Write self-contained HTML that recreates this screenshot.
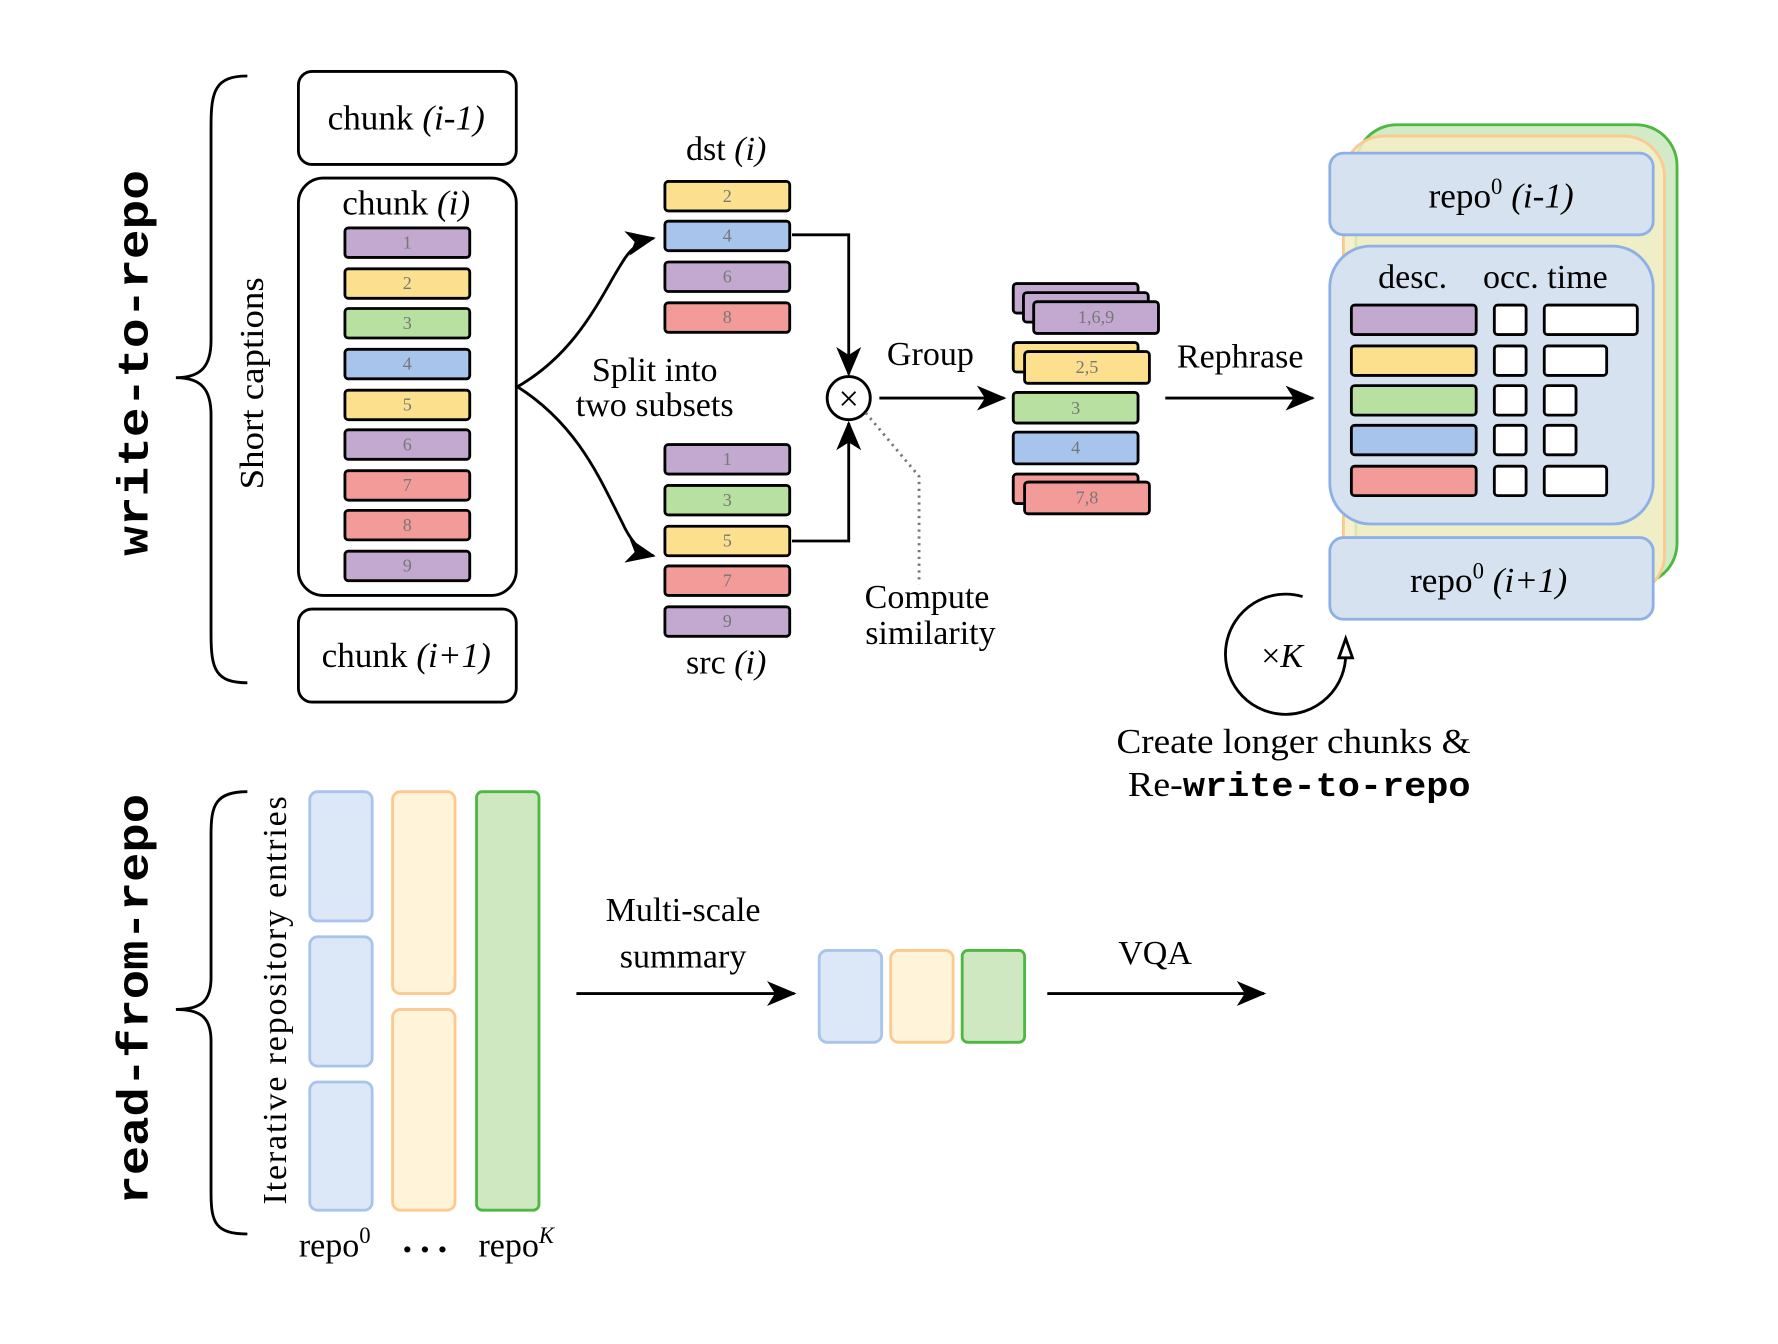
<!DOCTYPE html>
<html><head><meta charset="utf-8"><style>html,body{margin:0;padding:0;background:#fff}svg{display:block}</style></head>
<body>
<svg width="1778" height="1344" viewBox="0 0 1567 1185" xmlns="http://www.w3.org/2000/svg" preserveAspectRatio="none">
<defs>
<marker id="ahb" markerWidth="26" markerHeight="22" refX="24" refY="11" orient="auto" markerUnits="userSpaceOnUse" viewBox="0 0 26 22"><path d="M0,0 L26,11 L0,22 L7,11 Z" fill="#000"/></marker>
</defs>
<g font-family="Liberation Serif, serif" fill="#000">
<text transform="translate(130,320) rotate(-90)" text-anchor="middle" font-family="Liberation Mono, monospace" font-weight="bold" font-size="38" textLength="340" lengthAdjust="spacingAndGlyphs">write-to-repo</text>
<text transform="translate(130,881) rotate(-90)" text-anchor="middle" font-family="Liberation Mono, monospace" font-weight="bold" font-size="38" textLength="362" lengthAdjust="spacingAndGlyphs">read-from-repo</text>
<path d="M218,67 C190,67 186,80 186,110 L186,300 C186,322 178,333 155,333 C178,333 186,344 186,366 L186,560 C186,590 190,602 218,602" fill="none" stroke="#000" stroke-width="2.5"/>
<path d="M218,698 C190,698 186,710 186,735 L186,862 C186,882 178,890 155,890 C178,890 186,898 186,918 L186,1052 C186,1078 190,1088 218,1088" fill="none" stroke="#000" stroke-width="2.5"/>
<text transform="translate(232,338) rotate(-90)" text-anchor="middle" font-size="30" textLength="187" lengthAdjust="spacingAndGlyphs">Short captions</text>
<rect x="263" y="63" width="192" height="82" rx="12" fill="#fff" stroke="#000" stroke-width="2.5"/>
<text x="358" y="114" text-anchor="middle" font-size="31">chunk <tspan font-style="italic">(i-1)</tspan></text>
<rect x="263" y="157" width="192" height="368" rx="22" fill="#fff" stroke="#000" stroke-width="2.5"/>
<text x="358" y="189" text-anchor="middle" font-size="31">chunk <tspan font-style="italic">(i)</tspan></text>
<rect x="263" y="537" width="192" height="82" rx="12" fill="#fff" stroke="#000" stroke-width="2.5"/>
<text x="358" y="588" text-anchor="middle" font-size="31">chunk <tspan font-style="italic">(i+1)</tspan></text>
<g stroke="#000" stroke-width="2.5">
<rect x="304" y="201" width="110" height="26" rx="3" fill="#c3a9d0"/>
<rect x="304" y="237" width="110" height="26" rx="3" fill="#fde08e"/>
<rect x="304" y="272" width="110" height="26" rx="3" fill="#b8e0a0"/>
<rect x="304" y="308" width="110" height="26" rx="3" fill="#a7c4ec"/>
<rect x="304" y="344" width="110" height="26" rx="3" fill="#fde08e"/>
<rect x="304" y="379" width="110" height="26" rx="3" fill="#c3a9d0"/>
<rect x="304" y="415" width="110" height="26" rx="3" fill="#f29b98"/>
<rect x="304" y="450" width="110" height="26" rx="3" fill="#f29b98"/>
<rect x="304" y="486" width="110" height="26" rx="3" fill="#c3a9d0"/>
<rect x="586" y="160" width="110" height="26" rx="3" fill="#fde08e"/>
<rect x="586" y="195" width="110" height="26" rx="3" fill="#a7c4ec"/>
<rect x="586" y="231" width="110" height="26" rx="3" fill="#c3a9d0"/>
<rect x="586" y="267" width="110" height="26" rx="3" fill="#f29b98"/>
<rect x="586" y="392" width="110" height="26" rx="3" fill="#c3a9d0"/>
<rect x="586" y="428" width="110" height="26" rx="3" fill="#b8e0a0"/>
<rect x="586" y="464" width="110" height="26" rx="3" fill="#fde08e"/>
<rect x="586" y="499" width="110" height="26" rx="3" fill="#f29b98"/>
<rect x="586" y="535" width="110" height="26" rx="3" fill="#c3a9d0"/>
<rect x="893" y="250" width="110" height="26" rx="3" fill="#c3a9d0"/>
<rect x="902" y="258" width="110" height="26" rx="3" fill="#c3a9d0"/>
<rect x="911" y="266" width="110" height="28" rx="3" fill="#c3a9d0"/>
<rect x="893" y="302" width="110" height="26" rx="3" fill="#fde08e"/>
<rect x="903" y="310" width="110" height="28" rx="3" fill="#fde08e"/>
<rect x="893" y="346" width="110" height="27" rx="3" fill="#b8e0a0"/>
<rect x="893" y="381" width="110" height="28" rx="3" fill="#a7c4ec"/>
<rect x="893" y="418" width="110" height="26" rx="3" fill="#f29b98"/>
<rect x="903" y="425" width="110" height="28" rx="3" fill="#f29b98"/>
</g>
<g fill="#777" font-size="16" text-anchor="middle">
<text x="359" y="219">1</text><text x="359" y="255">2</text><text x="359" y="290">3</text><text x="359" y="326">4</text><text x="359" y="362">5</text><text x="359" y="397">6</text><text x="359" y="433">7</text><text x="359" y="468">8</text><text x="359" y="504">9</text>
<text x="641" y="178">2</text><text x="641" y="213">4</text><text x="641" y="249">6</text><text x="641" y="285">8</text>
<text x="641" y="410">1</text><text x="641" y="446">3</text><text x="641" y="482">5</text><text x="641" y="517">7</text><text x="641" y="553">9</text>
<text x="966" y="285">1,6,9</text><text x="958" y="329">2,5</text><text x="948" y="365">3</text><text x="948" y="400">4</text><text x="958" y="444">7,8</text>
</g>
<text x="640" y="141" text-anchor="middle" font-size="30">dst <tspan font-style="italic">(i)</tspan></text>
<text x="640" y="594" text-anchor="middle" font-size="30">src <tspan font-style="italic">(i)</tspan></text>
<path d="M456,341 C510,310 530,260 548,232 C556,218 566,212 576,210" fill="none" stroke="#000" stroke-width="2.5" marker-end="url(#ahb)"/>
<path d="M456,341 C510,375 530,425 548,460 C556,478 566,488 576,490" fill="none" stroke="#000" stroke-width="2.5" marker-end="url(#ahb)"/>
<text x="577" y="336" text-anchor="middle" font-size="30">Split into</text>
<text x="577" y="367" text-anchor="middle" font-size="30">two subsets</text>
<path d="M698,207 L748,207 L748,330" fill="none" stroke="#000" stroke-width="2.5" marker-end="url(#ahb)"/>
<path d="M698,477 L748,477 L748,373" fill="none" stroke="#000" stroke-width="2.5" marker-end="url(#ahb)"/>
<circle cx="748" cy="351" r="19" fill="#fff" stroke="#000" stroke-width="2.5"/>
<text x="748" y="362" text-anchor="middle" font-size="32">×</text>
<path d="M763,364 L810,420 L810,515" fill="none" stroke="#777" stroke-width="2.5" stroke-dasharray="2,4"/>
<text x="817" y="536" text-anchor="middle" font-size="30">Compute</text>
<text x="820" y="568" text-anchor="middle" font-size="30">similarity</text>
<text x="820" y="322" text-anchor="middle" font-size="30">Group</text>
<line x1="775" y1="351" x2="885" y2="351" stroke="#000" stroke-width="2.5" marker-end="url(#ahb)"/>
<text x="1093" y="324" text-anchor="middle" font-size="30">Rephrase</text>
<line x1="1027" y1="351" x2="1157" y2="351" stroke="#000" stroke-width="2.5" marker-end="url(#ahb)"/>
<rect x="1195" y="110" width="283" height="405" rx="36" fill="#d3eac6" stroke="#4cb842" stroke-width="2.5"/>
<rect x="1184" y="120" width="283" height="405" rx="36" fill="#f3efc7" stroke="#fcc98e" stroke-width="2.5" fill-opacity="0.85"/>
<rect x="1172" y="135" width="285" height="72" rx="12" fill="#d6e2f0" stroke="#8fb0e6" stroke-width="2.5"/>
<text x="1323" y="183" text-anchor="middle" font-size="31">repo<tspan dy="-12" font-size="20">0</tspan><tspan dy="12" font-style="italic"> (i-1)</tspan></text>
<rect x="1172" y="217" width="285" height="245" rx="36" fill="#d6e2f0" stroke="#8fb0e6" stroke-width="2.5"/>
<rect x="1172" y="474" width="285" height="72" rx="12" fill="#d6e2f0" stroke="#8fb0e6" stroke-width="2.5"/>
<text x="1312" y="522" text-anchor="middle" font-size="31">repo<tspan dy="-12" font-size="20">0</tspan><tspan dy="12" font-style="italic"> (i+1)</tspan></text>
<text x="1245" y="254" text-anchor="middle" font-size="30">desc.</text>
<text x="1362" y="254" text-anchor="middle" font-size="30">occ. time</text>
<g stroke="#000" stroke-width="2.5">
<rect x="1191" y="269" width="110" height="26" rx="3" fill="#c3a9d0"/>
<rect x="1191" y="305" width="110" height="26" rx="3" fill="#fde08e"/>
<rect x="1191" y="340" width="110" height="26" rx="3" fill="#b8e0a0"/>
<rect x="1191" y="375" width="110" height="26" rx="3" fill="#a7c4ec"/>
<rect x="1191" y="411" width="110" height="26" rx="3" fill="#f29b98"/>
<g fill="#fff">
<rect x="1317" y="269" width="28" height="26" rx="3"/><rect x="1317" y="305" width="28" height="26" rx="3"/><rect x="1317" y="340" width="28" height="26" rx="3"/><rect x="1317" y="375" width="28" height="26" rx="3"/><rect x="1317" y="411" width="28" height="26" rx="3"/>
<rect x="1361" y="269" width="82" height="26" rx="3"/><rect x="1361" y="305" width="55" height="26" rx="3"/><rect x="1361" y="340" width="28" height="26" rx="3"/><rect x="1361" y="375" width="28" height="26" rx="3"/><rect x="1361" y="411" width="55" height="26" rx="3"/>
</g>
</g>
<path d="M1148,526 A53,53 0 1,0 1186,575" fill="none" stroke="#000" stroke-width="2.5"/>
<path d="M1186,563 L1180,580 L1192,580 Z" fill="#fff" stroke="#000" stroke-width="2.5"/>
<text x="1130" y="588" text-anchor="middle" font-size="30">×<tspan font-style="italic">K</tspan></text>
<text x="1140" y="664" text-anchor="middle" font-size="31" textLength="312" lengthAdjust="spacingAndGlyphs">Create longer chunks &amp;</text>
<text x="1145" y="702" text-anchor="middle" font-size="31" textLength="302" lengthAdjust="spacingAndGlyphs">Re-<tspan font-family="Liberation Mono, monospace" font-weight="bold" font-size="30">write-to-repo</tspan></text>
<text transform="translate(252,882) rotate(-90)" text-anchor="middle" font-size="30" textLength="360" lengthAdjust="spacing">Iterative repository entries</text>
<g stroke-width="2.5">
<rect x="273" y="698" width="55" height="114" rx="7" fill="#dce8f7" stroke="#a8c4ec"/>
<rect x="273" y="826" width="55" height="114" rx="7" fill="#dce8f7" stroke="#a8c4ec"/>
<rect x="273" y="954" width="55" height="113" rx="7" fill="#dce8f7" stroke="#a8c4ec"/>
<rect x="346" y="698" width="55" height="178" rx="7" fill="#fff4d9" stroke="#fcc98e"/>
<rect x="346" y="890" width="55" height="177" rx="7" fill="#fff4d9" stroke="#fcc98e"/>
<rect x="420" y="698" width="55" height="369" rx="5" fill="#cfe8c1" stroke="#4cb842"/>
<rect x="722" y="838" width="55" height="81" rx="7" fill="#dce8f7" stroke="#a8c4ec"/>
<rect x="785" y="838" width="55" height="81" rx="7" fill="#fff4d9" stroke="#fcc98e"/>
<rect x="848" y="838" width="55" height="81" rx="5" fill="#cfe8c1" stroke="#4cb842"/>
</g>
<text x="295" y="1108" text-anchor="middle" font-size="30">repo<tspan dy="-12" font-size="20">0</tspan></text>
<text x="378" y="1104" text-anchor="middle" font-size="34" font-weight="bold" letter-spacing="7">...</text>
<text x="455" y="1108" text-anchor="middle" font-size="30">repo<tspan dy="-12" font-size="20" font-style="italic">K</tspan></text>
<text x="602" y="812" text-anchor="middle" font-size="30">Multi-scale</text>
<text x="602" y="853" text-anchor="middle" font-size="30">summary</text>
<line x1="508" y1="876" x2="700" y2="876" stroke="#000" stroke-width="2.5" marker-end="url(#ahb)"/>
<text x="1018" y="850" text-anchor="middle" font-size="30">VQA</text>
<line x1="923" y1="876" x2="1114" y2="876" stroke="#000" stroke-width="2.5" marker-end="url(#ahb)"/>
</g>
</svg>
</body></html>
